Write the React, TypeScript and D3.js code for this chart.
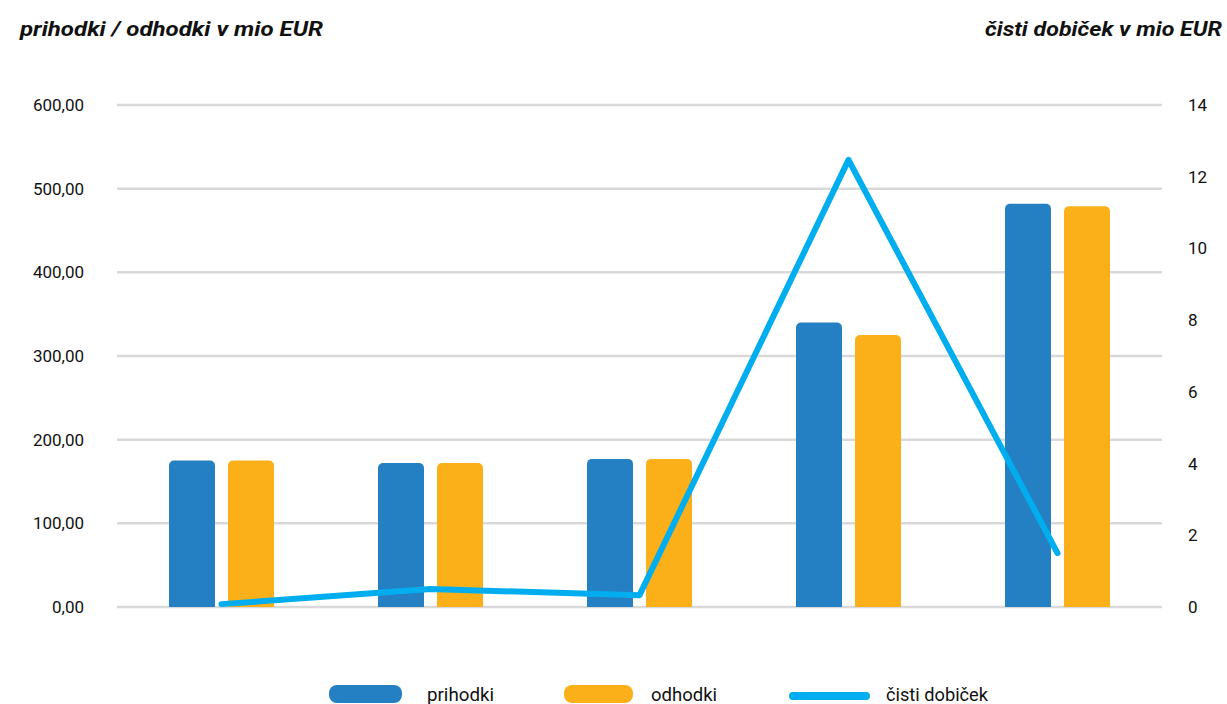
import React from "react";
import * as d3 from "d3";

const categories = ["1", "2", "3", "4", "5"];
const prihodki = [175, 172, 177, 340, 482];
const odhodki = [175, 172, 177, 325, 479];
const cistiDobicek = [0.08, 0.5, 0.33, 12.47, 1.5];
const leftTicks = [0, 100, 200, 300, 400, 500, 600];
const rightTicks = [0, 2, 4, 6, 8, 10, 12, 14];

const W = 1227;
const H = 704;
const M = { left: 117, right: 1162, top: 105, bottom: 607 };
const BLUE = "#2580C3";
const ORANGE = "#FBB01A";
const LINE = "#00AEEF";
const FONT = "Roboto, 'Noto Sans', sans-serif";

function topRoundedRect(x: number, y: number, w: number, h: number, r: number) {
  const p = d3.path();
  p.moveTo(x, y + h);
  p.lineTo(x, y + r);
  p.arcTo(x, y, x + r, y, r);
  p.lineTo(x + w - r, y);
  p.arcTo(x + w, y, x + w, y + r, r);
  p.lineTo(x + w, y + h);
  p.closePath();
  return p.toString();
}

export default function App() {
  const x = d3.scaleBand<string>().domain(categories).range([M.left, M.right]).padding(0);
  const yL = d3.scaleLinear().domain([0, 600]).range([M.bottom, M.top]);
  const yR = d3.scaleLinear().domain([0, 14]).range([M.bottom, M.top]);
  const fmt = (v: number) => d3.format(".2f")(v).replace(".", ",");
  const barW = 46;
  const gap = 13;
  const line = d3
    .line<number>()
    .x((_, i) => (x(categories[i]) as number) + x.bandwidth() / 2)
    .y((d) => yR(d));

  return (
    <div style={{ position: "absolute", left: 0, top: 0 }}>
      <svg width={W} height={H} style={{ display: "block", background: "#fff" }}>
        <text x={20} y={36} fontFamily={FONT} fontStyle="italic" fontWeight={700} fontSize={21} fill="#111"
          textLength={303} lengthAdjust="spacingAndGlyphs">
          prihodki / odhodki v mio EUR
        </text>
        <text x={985} y={36} fontFamily={FONT} fontStyle="italic" fontWeight={700} fontSize={21} fill="#111"
          textLength={237} lengthAdjust="spacingAndGlyphs">
          čisti dobiček v mio EUR
        </text>
        {leftTicks.map((t) => (
          <g key={"l" + t}>
            <line x1={M.left} x2={M.right} y1={yL(t)} y2={yL(t)} stroke="#d9d9d9" strokeWidth={2.5} />
            <text x={84} y={yL(t)} dy="0.35em" textAnchor="end" fontFamily={FONT} fontSize={17} fill="#111">
              {fmt(t)}
            </text>
          </g>
        ))}
        {rightTicks.map((t) => (
          <text key={"r" + t} x={1188} y={yR(t)} dy="0.35em" fontFamily={FONT} fontSize={17} fill="#111">
            {t}
          </text>
        ))}
        {categories.map((c, i) => {
          const cx = (x(c) as number) + x.bandwidth() / 2;
          const bx = cx - gap / 2 - barW;
          const ox = cx + gap / 2;
          return (
            <g key={c}>
              <path d={topRoundedRect(bx, yL(prihodki[i]), barW, yL(0) - yL(prihodki[i]), 5)} fill={BLUE} />
              <path d={topRoundedRect(ox, yL(odhodki[i]), barW, yL(0) - yL(odhodki[i]), 5)} fill={ORANGE} />
            </g>
          );
        })}
        <path
          d={line(cistiDobicek) || ""}
          fill="none"
          stroke={LINE}
          strokeWidth={6}
          strokeLinecap="round"
          strokeLinejoin="round"
        />
        <rect x={329} y={685} width={73} height={18} rx={8} fill={BLUE} />
        <text x={427} y={701} fontFamily={FONT} fontSize={18} fill="#111" textLength={67} lengthAdjust="spacingAndGlyphs">prihodki</text>
        <rect x={564} y={685} width={69} height={18} rx={8} fill={ORANGE} />
        <text x={651} y={701} fontFamily={FONT} fontSize={18} fill="#111" textLength={66} lengthAdjust="spacingAndGlyphs">odhodki</text>
        <line x1={793} x2={866} y1={696} y2={696} stroke={LINE} strokeWidth={8} strokeLinecap="round" />
        <text x={886} y={701} fontFamily={FONT} fontSize={18} fill="#111" textLength={102} lengthAdjust="spacingAndGlyphs">čisti dobiček</text>
      </svg>
    </div>
  );
}
